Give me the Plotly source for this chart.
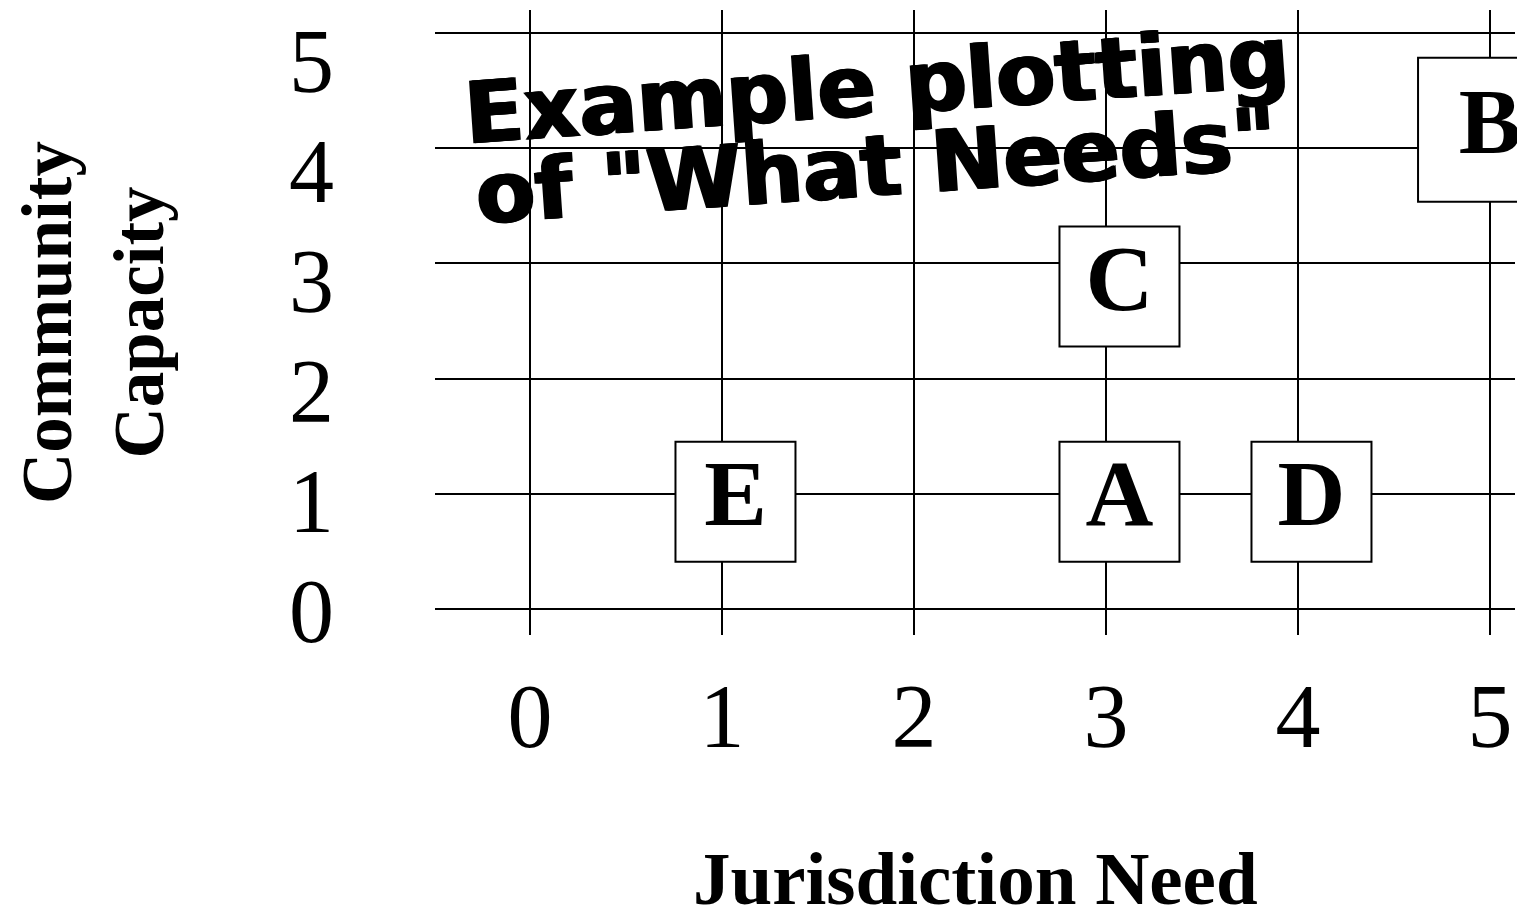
import plotly.graph_objects as go

# Jurisdiction need (x) vs community capacity (y) for each example place
labels = ["A", "B", "C", "D", "E"]
need = [3.07, 5.0, 3.07, 4.07, 1.07]
capacity = [0.93, 4.16, 2.8, 0.93, 0.93]
box_size = [120, 144, 120, 120, 120]

ticks = [0, 1, 2, 3, 4, 5]
tick_text = ["0", "1", "2", "3", "4", "5"]

caption_lines = ["Example plotting", 'of "What Needs"']

serif = "Liberation Serif, Times New Roman, serif"
heavy = "DejaVu Sans, sans-serif"

fig = go.Figure()

fig.add_trace(go.Scatter(
    x=need, y=capacity,
    mode="markers+text",
    text=labels,
    textposition="middle center",
    textfont=dict(family=serif, size=94, color="black", weight="bold"),
    marker=dict(symbol="square", size=box_size, color="white", opacity=1,
                line=dict(color="black", width=2)),
    cliponaxis=False,
    showlegend=False,
    hoverinfo="skip",
))

# empty trace so the label axis (y2) gets drawn
fig.add_trace(go.Scatter(
    x=[None], y=[None], yaxis="y2", mode="markers",
    showlegend=False, hoverinfo="skip",
))

# WordArt-style caption, one annotation per line
for line, ypos in zip(caption_lines, [0.88, 0.75]):
    fig.add_annotation(
        xref="paper", yref="paper", x=0.409, y=ypos,
        xanchor="center", yanchor="middle",
        text=line, showarrow=False, textangle=-4,
        font=dict(family=heavy, size=86, color="black", weight="bold",
                  shadow="1.5px 0 0 black, -1.5px 0 0 black"),
    )

# x axis title sits low, partly in the page edge, so it is an annotation
fig.add_annotation(
    xref="paper", yref="paper", x=0.5, y=-0.459,
    xanchor="center", yanchor="bottom",
    text="<b>Jurisdiction Need</b>", showarrow=False,
    font=dict(family=serif, size=75, color="black"),
)

fig.update_xaxes(
    range=[-0.495, 5.13],
    tickvals=ticks, ticktext=tick_text,
    showgrid=True, gridcolor="black", gridwidth=2,
    zeroline=False, showline=False,
    tickfont=dict(family=serif, size=90, color="black"),
    ticklabelstandoff=21, ticklabeloverflow="allow",
)

fig.update_layout(
    width=1517, height=906,
    margin=dict(l=427, r=10, t=2, b=279, autoexpand=False),
    paper_bgcolor="white", plot_bgcolor="white",
    # grid lines of the chart
    yaxis=dict(
        range=[-0.226, 5.2],
        tickvals=ticks, showticklabels=False,
        showgrid=True, gridcolor="black", gridwidth=2,
        zeroline=False, showline=False,
    ),
    # the slide's y labels are spaced a little tighter than its grid lines
    yaxis2=dict(
        overlaying="y", side="left",
        range=[-0.227, 5.455],
        tickvals=ticks, ticktext=tick_text,
        showgrid=False, zeroline=False, showline=False,
        tickfont=dict(family=serif, size=90, color="black"),
        ticklabelstandoff=100, ticklabeloverflow="allow",
        title=dict(text="<b>Community<br>Capacity</b>", standoff=102,
                   font=dict(family=serif, size=71, color="black")),
    ),
)

fig.write_html("out.html")
